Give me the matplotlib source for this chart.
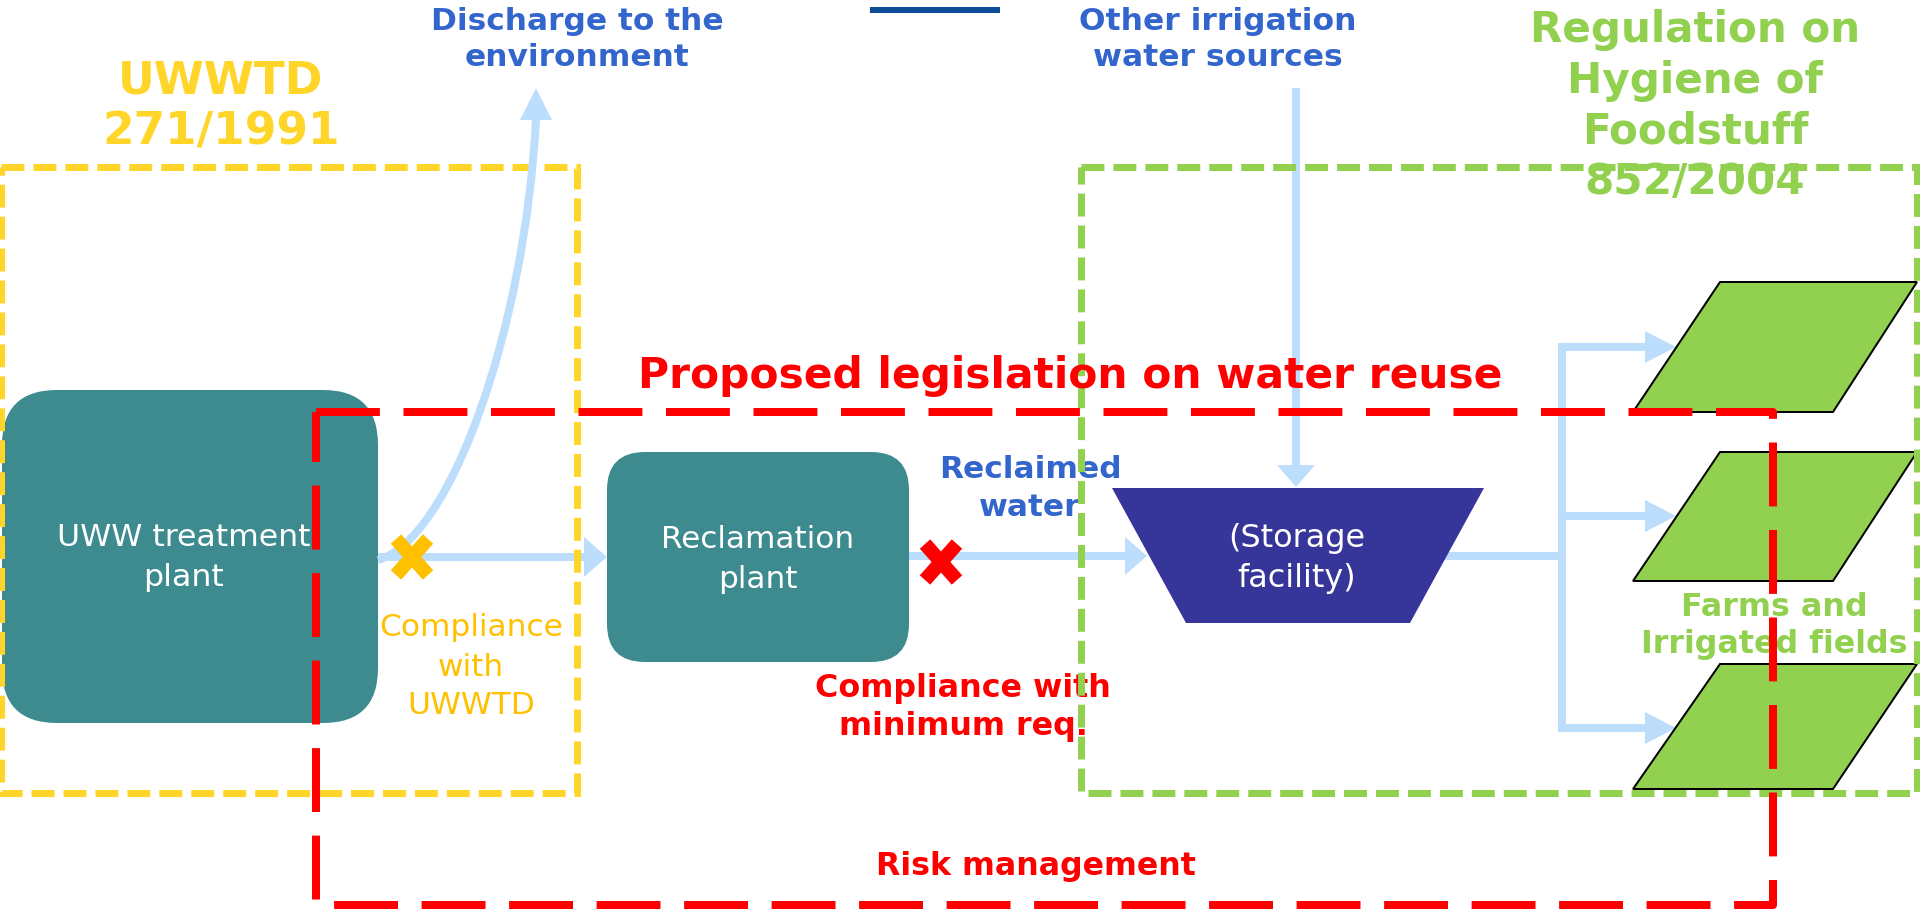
import matplotlib
matplotlib.use('Agg')
import matplotlib.pyplot as plt
from matplotlib.patches import Rectangle, FancyBboxPatch, Polygon, PathPatch
from matplotlib.path import Path

# ---- texts of the diagram ----
discharge_lines = ["Discharge to the", "environment"]
other_src_lines = ["Other irrigation", "water sources"]
uwwtd_lines = ["UWWTD", "271/1991"]
hygiene_lines = ["Regulation on", "Hygiene of", "Foodstuff", "852/2004"]
proposed_title = ["Proposed legislation on water reuse"]
uww_lines = ["UWW treatment", "plant"]
recl_lines = ["Reclamation", "plant"]
storage_lines = ["(Storage", "facility)"]
compl_uwwtd_lines = ["Compliance", "with", "UWWTD"]
reclaimed_lines = ["Reclaimed", "water"]
compl_min_lines = ["Compliance with", "minimum req."]
farms_lines = ["Farms and", "Irrigated fields"]
risk_lines = ["Risk management"]

plt.rcParams['lines.scale_dashes'] = False
plt.rcParams['font.family'] = ['DejaVu Sans']

W, H = 1920, 909
PX = 0.72  # points per pixel at dpi 100
fig = plt.figure(figsize=(19.2, 9.09), dpi=100)
ax = fig.add_axes([0, 0, 1, 1])
ax.set_xlim(0, W)
ax.set_ylim(H, 0)
ax.axis('off')
renderer = fig.canvas.get_renderer()

TEAL = '#3E8B8F'
STORE = '#36359A'
LBLUE = '#BDDDFC'
YEL = '#FFD52A'
ORANGE = '#FFC000'
GREEN = '#92D050'
BLUE = '#3366CC'
RED = '#FF0000'


def label(lines, cx, ys, target_w, color, weight='bold', z=6):
    texts = [ax.text(cx, y, s, ha='center', va='center', fontsize=20,
                     color=color, fontweight=weight, zorder=z)
             for s, y in zip(lines, ys)]
    wmax = max(t.get_window_extent(renderer).width for t in texts)
    fs = 20 * target_w / wmax
    for t in texts:
        t.set_fontsize(fs)


def hline(x0, x1, y, lw=8, color=LBLUE, z=2):
    ax.plot([x0, x1], [y, y], color=color, lw=lw * PX, solid_capstyle='butt', zorder=z)


def vline(x, y0, y1, lw=8, color=LBLUE, z=2):
    ax.plot([x, x], [y0, y1], color=color, lw=lw * PX, solid_capstyle='butt', zorder=z)


def head(pts, color=LBLUE, z=2):
    ax.add_patch(Polygon(pts, closed=True, fc=color, ec='none', zorder=z))


def cross(cx, cy, hw, hh, lw, color, z=7):
    ax.plot([cx - hw, cx + hw], [cy - hh, cy + hh], color=color, lw=lw * PX, solid_capstyle='butt', zorder=z)
    ax.plot([cx - hw, cx + hw], [cy + hh, cy - hh], color=color, lw=lw * PX, solid_capstyle='butt', zorder=z)


# ---- light-blue flow lines ----
# UWW -> reclamation
hline(370, 584, 557)
head([(584, 537), (584, 577), (607, 557)])
# reclamation -> storage
hline(905, 1125, 556)
head([(1125, 537), (1125, 575), (1147, 556)])
# curved discharge arrow
curve = Path([(378, 560), (450, 540), (525, 330), (536, 119)],
             [Path.MOVETO, Path.CURVE4, Path.CURVE4, Path.CURVE4])
ax.add_patch(PathPatch(curve, fc='none', ec=LBLUE, lw=8 * PX, zorder=4.5, capstyle='butt'))
head([(520, 120), (552, 120), (536, 88)], z=4.5)
# other irrigation sources -> storage
vline(1296, 88, 466)
head([(1277, 465), (1315, 465), (1296, 487)])
# storage -> distribution
hline(1440, 1566, 556)
vline(1562, 343, 732)
for yb in (347, 516, 728):
    hline(1558, 1645, yb)
    head([(1645, yb - 16), (1645, yb + 16), (1676, yb)])

# ---- boxes ----
ax.add_patch(FancyBboxPatch((2, 390), 376, 333, boxstyle='round,pad=0,rounding_size=55',
                            fc=TEAL, ec='none', zorder=3))
ax.add_patch(FancyBboxPatch((607, 452), 302, 210, boxstyle='round,pad=0,rounding_size=38',
                            fc=TEAL, ec='none', zorder=3))
ax.add_patch(Polygon([(1112, 488), (1484, 488), (1410, 623), (1186, 623)], closed=True,
                     fc=STORE, ec='none', zorder=3))

# fields
for (yt, yb_) in ((282, 412), (452, 581), (664, 789)):
    ax.add_patch(Polygon([(1720, yt), (1917, yt), (1833, yb_), (1633, yb_)], closed=True,
                         fc=GREEN, ec='black', lw=2 * PX, zorder=3))

# ---- dashed frames ----
ax.add_patch(Rectangle((1, 167), 576, 626, fill=False, ec=YEL, lw=7 * PX,
                       linestyle=(0, (16.5, 6.5)), zorder=4))
ax.add_patch(Rectangle((1081, 167), 836, 626, fill=False, ec=GREEN, lw=7 * PX,
                       linestyle=(0, (16.5, 6.5)), zorder=4))
ax.add_patch(Rectangle((316, 412), 1457, 493, fill=False, ec=RED, lw=8 * PX,
                       linestyle=(0, (46, 17)), zorder=5, joinstyle='round'))

# top dark line
ax.plot([870, 1000], [10, 10], color='#0E4C97', lw=6 * PX, solid_capstyle='butt', zorder=2)

# crosses
cross(412, 557, 16, 18, 14, ORANGE)
cross(941, 562, 16, 18, 14, RED)

# ---- labels ----
label(discharge_lines, 577, [22, 58], 293, BLUE)
label(other_src_lines, 1218, [22, 58], 278, BLUE)
label(uwwtd_lines, 221, [81, 132], 237, YEL)
label(hygiene_lines, 1695, [30, 81, 132, 182], 331, GREEN, z=3.9)
label(proposed_title, 1070, [376], 867, RED)
label(uww_lines, 184, [538, 578], 253, 'white', weight='normal', z=3.5)
label(recl_lines, 758, [540, 579], 193, 'white', weight='normal', z=3.5)
label(storage_lines, 1297, [539, 578], 137, 'white', weight='normal', z=3.5)
label(compl_uwwtd_lines, 471, [628, 667, 705], 184, ORANGE, weight='normal', z=3.5)
label(reclaimed_lines, 1030, [470, 508], 183, BLUE, z=3.5)
label(compl_min_lines, 963, [689, 727], 296, RED, z=3.5)
label(farms_lines, 1774, [607, 644], 268, GREEN, z=4.8)
label(risk_lines, 1036, [866], 320, RED)

fig.savefig('out.png', dpi=100, facecolor='white')
